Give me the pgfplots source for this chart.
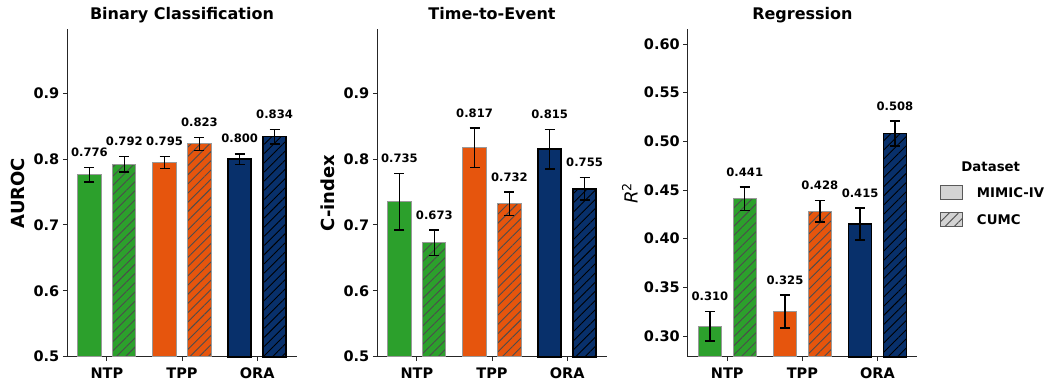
\documentclass[border=0pt]{standalone}
\usepackage{fontspec}
\setmainfont{DejaVu Sans}
\usepackage{pgfplots}
\pgfplotsset{compat=1.18}
\usetikzlibrary{patterns.meta}

\definecolor{cgreen}{HTML}{2CA02C}
\definecolor{corange}{HTML}{E6550D}
\definecolor{cnavy}{HTML}{08306B}
\definecolor{legfill}{HTML}{D3D3D3}

\pgfplotsset{
  panel/.style={
    scale only axis, width=229.4bp, height=327.4bp,
    xmin=-0.527, xmax=2.527,
    xtick={0,1,2}, xticklabels={NTP,TPP,ORA},
    axis x line*=bottom, axis y line*=left,
    axis line style={black!85, line width=0.9bp},
    tick style={black!85, line width=0.9bp},
    tick align=outside, major tick length=4.5bp,
    ticklabel style={font=\fontsize{14.5bp}{17bp}\selectfont\bfseries},
    xticklabel style={yshift=-3bp},
    /pgf/number format/assume math mode=true,
    title style={font=\fontsize{16bp}{19bp}\selectfont\bfseries, at={(axis description cs:0.5,1)}, anchor=base, yshift=4bp},
    ylabel style={font=\fontsize{18bp}{21bp}\selectfont\bfseries, anchor=center},
    clip=false,
  },
  ebars/.style={
    error bars/y dir=both, error bars/y explicit,
    error bars/error mark=-,
    error bars/error bar style={black, line width=1.5bp, solid},
    error bars/error mark options={black, line width=1.5bp, mark size=5bp, rotate=90}},
  mimic/.style={ybar, bar width=0.31, fill=#1, draw=black!40, line width=1bp, forget plot, ebars},
  cumc/.style={mimic=#1, postaction={pattern={Lines[angle=45,distance=6.5bp,line width=0.9bp]}, pattern color=black!70}},
  mimicn/.style={ybar, bar width=0.305, fill=cnavy, draw=black, line width=1.6bp, forget plot, ebars},
  cumcn/.style={mimicn, postaction={pattern={Lines[angle=45,distance=6.5bp,line width=0.9bp]}, pattern color=black}},
  vlabels/.style={draw=none, mark=none, forget plot, nodes near coords, point meta=explicit symbolic,
    nodes near coords style={anchor=south, inner sep=0pt, yshift=10.5bp, font=\fontsize{11.6bp}{13bp}\selectfont\bfseries}},
}

\begin{document}
\begin{tikzpicture}
\path[use as bounding box] (0,0) rectangle (1044bp,381bp);

% Panel 1
\begin{axis}[panel, at={(67.3bp,24.3bp)}, anchor=south west,
  ymin=0.5, ymax=0.997, ytick={0.5,0.6,0.7,0.8,0.9},
  yticklabel style={/pgf/number format/.cd, fixed, fixed zerofill, precision=1},
  ylabel={AUROC}, ylabel style={at={(axis description cs:-0.2158,0.5)}},
  title={Binary Classification}]
\addplot[mimic=cgreen] coordinates {(-0.232,0.776) +- (0,0.011)};
\addplot[cumc=cgreen] coordinates {(0.232,0.792) +- (0,0.012)};
\addplot[mimic=corange] coordinates {(0.768,0.795) +- (0,0.009)};
\addplot[cumc=corange] coordinates {(1.232,0.823) +- (0,0.010)};
\addplot[mimicn] coordinates {(1.768,0.800) +- (0,0.008)};
\addplot[cumcn] coordinates {(2.232,0.834) +- (0,0.011)};
\addplot[vlabels] coordinates {(-0.232,0.787) [0.776] (0.232,0.804) [0.792] (0.768,0.804) [0.795] (1.232,0.833) [0.823] (1.768,0.808) [0.800] (2.232,0.845) [0.834]};
\end{axis}

% Panel 2
\begin{axis}[panel, at={(377.3bp,24.3bp)}, anchor=south west,
  ymin=0.5, ymax=0.997, ytick={0.5,0.6,0.7,0.8,0.9},
  yticklabel style={/pgf/number format/.cd, fixed, fixed zerofill, precision=1},
  ylabel={C-index}, ylabel style={at={(axis description cs:-0.2158,0.5)}},
  title={Time-to-Event}]
\addplot[mimic=cgreen] coordinates {(-0.232,0.735) +- (0,0.043)};
\addplot[cumc=cgreen] coordinates {(0.232,0.673) +- (0,0.019)};
\addplot[mimic=corange] coordinates {(0.768,0.817) +- (0,0.030)};
\addplot[cumc=corange] coordinates {(1.232,0.732) +- (0,0.018)};
\addplot[mimicn] coordinates {(1.768,0.815) +- (0,0.030)};
\addplot[cumcn] coordinates {(2.232,0.755) +- (0,0.017)};
\addplot[vlabels] coordinates {(-0.232,0.778) [0.735] (0.232,0.692) [0.673] (0.768,0.847) [0.817] (1.232,0.750) [0.732] (1.768,0.845) [0.815] (2.232,0.772) [0.755]};
\end{axis}

% Panel 3
\begin{axis}[panel, at={(687.7bp,24.3bp)}, anchor=south west,
  ymin=0.2787, ymax=0.6151, ytick={0.30,0.35,0.40,0.45,0.50,0.55,0.60},
  yticklabel style={/pgf/number format/.cd, fixed, fixed zerofill, precision=2},
  ylabel={\mdseries\itshape R\upshape\textsuperscript{2}}, ylabel style={at={(axis description cs:-0.2526,0.5)}},
  title={Regression},
  legend style={draw=none, fill=none, at={(axis description cs:1.0989,0.5244)}, anchor=north west,
    inner sep=0pt, row sep=11.7bp, font=\fontsize{13.3bp}{16bp}\selectfont\bfseries},
  legend cell align=left,
  legend image code/.code={\draw[#1] (0bp,-7bp) rectangle (22bp,7bp); \path (34bp,0bp);}]
\addplot[mimic=cgreen] coordinates {(-0.232,0.310) +- (0,0.015)};
\addplot[cumc=cgreen] coordinates {(0.232,0.441) +- (0,0.012)};
\addplot[mimic=corange] coordinates {(0.768,0.325) +- (0,0.017)};
\addplot[cumc=corange] coordinates {(1.232,0.428) +- (0,0.011)};
\addplot[mimicn] coordinates {(1.768,0.415) +- (0,0.0165)};
\addplot[cumcn] coordinates {(2.232,0.508) +- (0,0.013)};
\addplot[vlabels] coordinates {(-0.232,0.325) [0.310] (0.232,0.453) [0.441] (0.768,0.342) [0.325] (1.232,0.439) [0.428] (1.768,0.4315) [0.415] (2.232,0.521) [0.508]};
\addlegendimage{fill=legfill, draw=black!65, line width=1bp}
\addlegendentry{MIMIC-IV}
\addlegendimage{fill=legfill, draw=black!65, line width=1bp, postaction={pattern={Lines[angle=45,distance=6.5bp,line width=0.9bp]}, pattern color=black!70}}
\addlegendentry{CUMC}
\node[anchor=center, inner sep=0pt, font=\fontsize{13.3bp}{16bp}\selectfont\bfseries] at (axis description cs:1.321,0.5803) {Dataset};
\end{axis}
\end{tikzpicture}
\end{document}
